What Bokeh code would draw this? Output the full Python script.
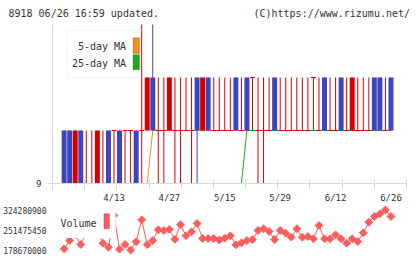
import math
from bokeh.plotting import figure
from bokeh.layouts import column, row
from bokeh.models import (Range1d, FixedTicker, LinearAxis, BoxAnnotation, Label,
                          ColumnDataSource, CDSView, IndexFilter)
from bokeh.embed import file_html
from bokeh.resources import INLINE
from bokeh.core.properties import value

# ---- data -------------------------------------------------------------
dates = ["3/30", "3/31", "4/1", "4/2", "4/3", "4/6", "4/7", "4/8", "4/9", "4/10",
         "4/13", "4/14", "4/15", "4/16", "4/17", "4/20", "4/21", "4/22", "4/23", "4/24",
         "4/27", "4/28", "4/30", "5/1", "5/7", "5/8", "5/11", "5/12", "5/13", "5/14",
         "5/15", "5/18", "5/19", "5/20", "5/21", "5/22", "5/25", "5/26", "5/27", "5/28",
         "5/29", "6/1", "6/2", "6/3", "6/4", "6/5", "6/8", "6/9", "6/10", "6/11",
         "6/12", "6/15", "6/16", "6/17", "6/18", "6/19", "6/22", "6/23", "6/24", "6/25", "6/26"]

tick_dates = ["4/13", "4/27", "5/15", "5/29", "6/12", "6/26"]

open_ = [9, 10, 10, 9, 10, 9, 9, 9, 9, 10,
         10, 10, 10, 10, 10, 10, 10, 11, 10, 10,
         10, 10, 10, 10, 10, 11, 10, 11, 10, 10,
         10, 10, 11, 10, 11, 11, 10, 10, 10, 11,
         10, 10, 10, 10, 10, 10, 11, 10, 11, 10,
         10, 11, 10, 10, 10, 10, 10, 11, 11, 10, 11]
high = [9, 10, 10, 10, 10, 10, 10, 10, 10, 10,
        10, 10, 10, 10, 10, 13, 11, 13, 11, 11,
        11, 11, 11, 11, 11, 11, 11, 11, 11, 11,
        11, 11, 11, 11, 11, 11, 11, 11, 11, 11,
        11, 11, 11, 11, 11, 11, 11, 11, 11, 11,
        11, 11, 11, 11, 11, 11, 11, 11, 11, 11, 11]
low = [9, 9, 9, 9, 9, 9, 9, 9, 9, 9,
       9, 9, 9, 9, 9, 9, 10, 10, 9, 9,
       10, 9, 9, 10, 9, 9, 10, 10, 10, 10,
       10, 10, 10, 10, 10, 10, 9, 9, 10, 10,
       10, 10, 10, 10, 10, 10, 10, 10, 10, 10,
       10, 10, 10, 10, 10, 10, 10, 10, 10, 10, 10]
close = [9, 9, 9, 10, 9, 9, 9, 10, 9, 9,
         10, 9, 10, 10, 9, 10, 11, 10, 10, 10,
         11, 10, 10, 10, 10, 10, 11, 10, 10, 10,
         10, 10, 10, 10, 10, 11, 10, 10, 10, 10,
         10, 10, 10, 10, 10, 10, 11, 10, 10, 10,
         10, 10, 10, 11, 10, 10, 10, 10, 10, 10, 10]

nan = float("nan")
ma5 = [nan] * 16 + [9] + [10] * 44
ma25 = [nan] * 33 + [9] + [10] * 27

volume = [nan, 183000000, 213300000, 235100000, 198700000, 238700000, 256900000, 249700000, 203400000, 188900000,
          304300000, 181600000, 198700000, 178670000, 208500000, 288600000, 198000000, 213300000, 252200000, 249700000,
          254000000, 217600000, 270800000, 230700000, 244900000, 275100000, 220500000, 220500000, 220500000, 215100000,
          221600000, 230400000, 197600000, 204900000, 213300000, 216900000, 249700000, 255800000, 246000000, 216900000,
          249700000, 239800000, 225300000, 255800000, 225300000, 227800000, 219400000, 267900000, 219400000, 219400000,
          234000000, 219400000, 203400000, 219400000, 209600000, 241300000, 279900000, 300600000, 310400000, 324280900,
          300600000]

title_left = "8918 06/26 16:59 updated."
title_right = "(C)https://www.rizumu.net/"

# ---- style ------------------------------------------------------------
FONT = "DejaVu Sans Mono"
TXT = "#333333"
GRID = "#d9d9d9"
RED = "#d40000"
BLUE = "#3d45bd"
ORANGE = "#f0901e"
GREEN = "#1aaa1a"
VOLC = "#ff5c5c"

W = 420
LEFT, RIGHT = 50, 14
FW = W - LEFT - RIGHT            # frame width in px
XS, XE = -1.1, 62.8              # index range shown

def dx(px):
    return XS + (px - LEFT) * (XE - XS) / FW

n = len(dates)
xi = list(range(n))

# ---- header strip -----------------------------------------------------
HEAD = 24
head = figure(width=W, height=HEAD, x_range=Range1d(0, W), y_range=Range1d(HEAD, 0),
              output_backend="svg", toolbar_location=None, min_border=0,
              x_axis_type=None, y_axis_type=None)
head.outline_line_color = None
head.text(x=[8], y=[12.5], text=[title_left], text_font=value(FONT), text_font_size="10px",
          text_baseline="middle", text_align="left", text_color=TXT)
head.text(x=[409.5], y=[12.5], text=[title_right], text_font=value(FONT), text_font_size="10px",
          text_baseline="middle", text_align="right", text_color=TXT)

# ---- price panel ------------------------------------------------------
PH = 160                         # frame height in px
YMIN, YMAX = 9, 12

def dy(py):  # py measured from the top of the page
    return YMAX - (py - HEAD) * (YMAX - YMIN) / PH

p = figure(width=W, height=181, x_range=Range1d(XS, XE), y_range=Range1d(YMIN, YMAX),
           output_backend="svg", toolbar_location=None,
           min_border_left=LEFT, min_border_right=RIGHT, min_border_top=0, min_border_bottom=21,
           x_axis_type=None, y_axis_type=None)
p.outline_line_color = None

yax = LinearAxis(ticker=FixedTicker(ticks=[YMIN]), axis_line_color=GRID, major_tick_line_color=GRID,
                 major_tick_out=5, major_tick_in=0, minor_tick_out=0, minor_tick_in=0,
                 major_label_standoff=6, major_label_text_font=FONT, major_label_text_font_size="9px",
                 major_label_text_color=TXT)
p.add_layout(yax, "left")

# date labels on major ticks, evenly spaced guide ticks as minor ticks
grid_ticks = [XS + k * (XE - XS) / 11 for k in range(12)]
grid_ticks[0] += 1e-6
grid_ticks[-1] -= 1e-6
label_idx = [dates.index(d) for d in tick_dates]
xax = LinearAxis(ticker=FixedTicker(ticks=label_idx, minor_ticks=grid_ticks),
                 major_label_overrides={i: dates[i] for i in label_idx},
                 axis_line_color=GRID, major_tick_line_color=None, minor_tick_line_color=GRID,
                 major_tick_out=0, major_tick_in=0, minor_tick_out=6, minor_tick_in=4,
                 major_label_standoff=3, major_label_text_font=FONT, major_label_text_font_size="9px",
                 major_label_text_color=TXT)
p.add_layout(xax, "below")

# moving averages
p.line(xi, ma5, line_color=ORANGE, line_width=1)
p.line(xi, ma25, line_color=GREEN, line_width=1)

# candles
colors = [BLUE if c < o else RED for o, c in zip(open_, close)]
src = ColumnDataSource(dict(x=xi, o=open_, h=high, l=low, c=close, col=colors,
                            top=[max(o, c) for o, c in zip(open_, close)],
                            bot=[min(o, c) for o, c in zip(open_, close)],
                            dl=[i - 0.45 for i in xi], dr=[i + 0.45 for i in xi]))
p.segment(x0="x", y0="l", x1="x", y1="h", line_color="col", line_width=1, source=src)
body_idx = [i for i in xi if open_[i] != close[i]]
doji_idx = [i for i in xi if open_[i] == close[i]]
p.vbar(x="x", top="top", bottom="bot", width=0.9, fill_color="col", line_color=None, source=src,
       view=CDSView(filter=IndexFilter(body_idx)))
p.segment(x0="dl", y0="o", x1="dr", y1="o", line_color="col", line_width=1, source=src,
          view=CDSView(filter=IndexFilter(doji_idx)))

# legend
p.add_layout(BoxAnnotation(left=dx(65), right=dx(143.3), top=dy(30), bottom=dy(77.3),
                           fill_alpha=0, line_color="#dddddd", line_width=1.5))
p.add_layout(BoxAnnotation(left=dx(131), right=dx(137.5), top=dy(37.3), bottom=dy(53.3),
                           fill_color=ORANGE, fill_alpha=1, line_color="#444444", line_width=1))
p.add_layout(BoxAnnotation(left=dx(131), right=dx(137.5), top=dy(54.5), bottom=dy(69.5),
                           fill_color=GREEN, fill_alpha=1, line_color="#444444", line_width=1))
p.add_layout(Label(x=dx(124), y=dy(46.5), text="5-day MA", text_align="right", text_baseline="middle",
                   text_font=FONT, text_font_size="10px", text_color=TXT))
p.add_layout(Label(x=dx(124), y=dy(63), text="25-day MA", text_align="right", text_baseline="middle",
                   text_font=FONT, text_font_size="10px", text_color=TXT))

# ---- volume panel -----------------------------------------------------
vals = [v for v in volume if not math.isnan(v)]
vmin, vmax = min(vals), max(vals)
vmid = (vmin + vmax) / 2
k = (vmax - vmin) / 40.0
VTOP = 205

def vy(py):
    return vmax - (py - 209.5) * k

v = figure(width=W, height=54, x_range=p.x_range, y_range=Range1d(vmin - 6.5 * k, vmax + 4.5 * k),
           output_backend="svg", toolbar_location=None,
           min_border_left=LEFT, min_border_right=RIGHT, min_border_top=0, min_border_bottom=3,
           x_axis_type=None, y_axis_type=None)
v.outline_line_color = None
vax = LinearAxis(ticker=FixedTicker(ticks=[vmin, vmid, vmax]),
                 major_label_overrides={vmin: str(int(vmin)), vmid: str(int(vmid)), vmax: str(int(vmax))},
                 axis_line_color=None, major_tick_line_color=None, major_tick_out=0, major_tick_in=0,
                 minor_tick_out=0, minor_tick_in=0, major_label_standoff=6,
                 major_label_text_font=FONT, major_label_text_font_size="8px", major_label_text_color=TXT)
v.add_layout(vax, "left")

v.line(xi, volume, line_color=VOLC, line_width=1)
v.scatter(xi, volume, marker="square", angle=math.pi / 4, size=5.5, fill_color=VOLC, line_color=VOLC)

v.add_layout(BoxAnnotation(left=dx(55), right=dx(113.5), top=vy(VTOP), bottom=vy(237.5),
                           fill_color="white", fill_alpha=1, line_color=None))
v.add_layout(BoxAnnotation(left=dx(101.7), right=dx(107.3), top=vy(213.3), bottom=vy(228.3),
                           fill_color=VOLC, fill_alpha=1, line_color="#444444", line_width=1))
v.add_layout(Label(x=dx(58), y=vy(222.5), text="Volume", text_align="left", text_baseline="middle",
                   text_font=FONT, text_font_size="10px", text_color=TXT))

layout = column(row(head), column(p, v))
open("out.html", "w").write(file_html(layout, INLINE))
